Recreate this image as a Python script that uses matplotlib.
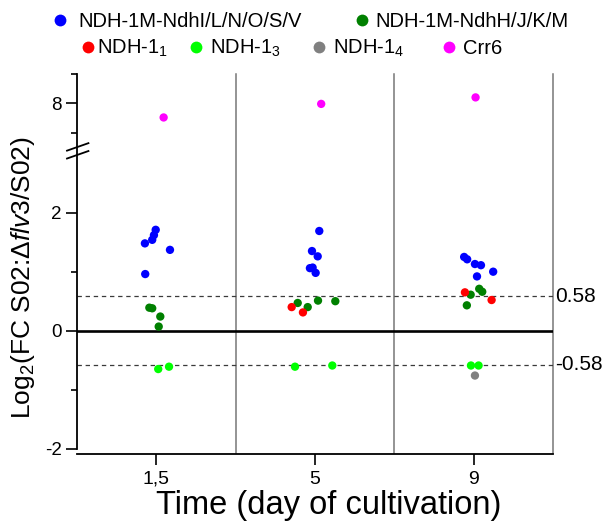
import numpy as np
import matplotlib
matplotlib.use("Agg")
import matplotlib.pyplot as plt
from matplotlib.lines import Line2D

plt.rcParams['font.family'] = ['Liberation Sans', 'DejaVu Sans']
plt.rcParams['mathtext.fontset'] = 'custom'
plt.rcParams['mathtext.rm'] = 'Liberation Sans'
plt.rcParams['mathtext.it'] = 'Liberation Sans:italic'
plt.rcParams['mathtext.bf'] = 'Liberation Sans:bold'

# time points (categories) and their labels
days = [1, 2, 3]
day_labels = ['1,5', '5', '9']

# log2 fold changes, x = category position (with jitter)
ndhi_x = [0.996, 0.985, 0.974, 0.928, 1.086, 0.930,
          2.027, 1.981, 2.017, 1.968, 1.985, 2.004,
          2.940, 2.959, 3.008, 3.046, 3.123, 3.021]
ndhi_y = [1.71, 1.62, 1.54, 1.48, 1.37, 0.96,
          1.69, 1.35, 1.26, 1.06, 1.07, 0.98,
          1.25, 1.21, 1.13, 1.11, 1.00, 0.92]

ndhh_x = [0.956, 0.974, 1.025, 1.015,
          1.891, 1.954, 2.019, 2.128,
          2.981, 3.035, 3.054, 2.957]
ndhh_y = [0.39, 0.38, 0.24, 0.07,
          0.47, 0.40, 0.51, 0.50,
          0.61, 0.71, 0.66, 0.43]

ndh1_x = [1.853, 1.924, 2.945, 3.113]
ndh1_y = [0.40, 0.31, 0.65, 0.52]

ndh3_x = [1.012, 1.080, 1.874, 2.109, 2.983, 3.031]
ndh3_y = [-0.65, -0.61, -0.61, -0.59, -0.59, -0.59]

ndh4_x = [3.008]
ndh4_y = [-0.76]

crr6_x = [1.046, 2.039, 3.012]
crr6_y = [7.76, 7.99, 8.10]

threshold = 0.58

series = [
    (ndhi_x, ndhi_y, '#0000ff', 'NDH-1M-NdhI/L/N/O/S/V'),
    (ndhh_x, ndhh_y, '#008000', 'NDH-1M-NdhH/J/K/M'),
    (ndh1_x, ndh1_y, '#ff0000', 'NDH-1$_1$'),
    (ndh3_x, ndh3_y, '#00ff00', 'NDH-1$_3$'),
    (ndh4_x, ndh4_y, '#808080', 'NDH-1$_4$'),
    (crr6_x, crr6_y, '#ff00ff', 'Crr6'),
]

# broken y axis: squeeze the empty band between 3.05 and 7.2
lo, hi, eps = 3.05, 7.2, 0.004


def fwd(y):
    y = np.asarray(y, dtype=float)
    return np.where(y <= lo, y,
                    np.where(y <= hi, lo + (y - lo) * eps / (hi - lo),
                             lo + eps + (y - hi)))


def inv(p):
    p = np.asarray(p, dtype=float)
    return np.where(p <= lo, p,
                    np.where(p <= lo + eps, lo + (p - lo) * (hi - lo) / eps,
                             hi + (p - lo - eps)))


fig = plt.figure(figsize=(6.09, 5.23), dpi=100)
ax = fig.add_axes([77 / 609, 1 - 448.7 / 523, 476 / 609, 374.9 / 523])
ax.set_yscale('function', functions=(fwd, inv))
ax.set_xlim(0.5, 3.5)
ax.set_ylim(-2, 8.5)

for xs, ys, c, lab in series:
    ax.scatter(xs, ys, s=36, color=c, edgecolors='none', zorder=3)

# separators between time points and right frame
for xv in (1.5, 2.5, 3.5):
    ax.axvline(xv, ymin=-4 / 375, ymax=1, color='#777777', lw=1.1,
               clip_on=False, zorder=1)

ax.axhline(0, color='black', lw=1.9, zorder=2)
for yv in (threshold, -threshold):
    ax.axhline(yv, color='#3a3a3a', lw=0.9, ls=(0, (3.5, 3)), zorder=2)
ax.text(3.512, threshold, f'{threshold:.2f}', fontsize=15, va='center',
        ha='left')
ax.text(3.512, -threshold, f'{-threshold:.2f}', fontsize=15, va='center',
        ha='left')

ax.spines['top'].set_visible(False)
ax.spines['right'].set_visible(False)
ax.spines['bottom'].set_position(('outward', 4))
for s in ('left', 'bottom'):
    ax.spines[s].set_linewidth(1.3)

ax.set_yticks([-2, 0, 2, 8])
ax.set_yticklabels(['-2', '0', '2', '8'])
ax.set_yticks([-1, 1, 7.5, 8.5], minor=True)
ax.set_xticks(days)
ax.set_xticklabels(day_labels)
ax.tick_params(axis='y', which='major', length=8, width=1.2, labelsize=13.5, pad=3)
ax.tick_params(axis='y', which='minor', length=4.3, width=1.2)
ax.tick_params(axis='x', which='major', length=8, width=1.2, labelsize=14, pad=4)
ax.tick_params(axis='x', which='minor', bottom=False)

# break marks on the y axis
for y0, y1 in ((0.795, 0.815), (0.774, 0.794)):
    ax.plot([-0.021, 0.024], [y0, y1], color='black', lw=1.3,
            transform=ax.transAxes, clip_on=False, zorder=5)

fig.text(329 / 609, 1 - 514 / 523, 'Time (day of cultivation)', fontsize=23.5,
         ha='center', va='baseline')
fig.text(23 / 609, 1 - 278 / 523, r'Log$_2$(FC S02:$\Delta$$\mathit{flv3}$/S02)',
         rotation=90, fontsize=19, ha='center', va='center')

# legend, two rows
marker_pos = [(60, 20), (362, 20), (88, 47), (196, 47), (319, 47), (449, 47)]
text_x = [78, 375, 97, 210, 333, 463]
for (xs, ys, c, lab), (mx, my), tx in zip(series, marker_pos, text_x):
    fig.add_artist(Line2D([mx / 609], [1 - my / 523], marker='o', ms=8.5,
                          color=c, mec='none', transform=fig.transFigure))
    fig.text(tx / 609, 1 - (my + 7.2) / 523, lab, fontsize=14.5,
             ha='left', va='baseline')

fig.savefig('out.png', dpi=100)
